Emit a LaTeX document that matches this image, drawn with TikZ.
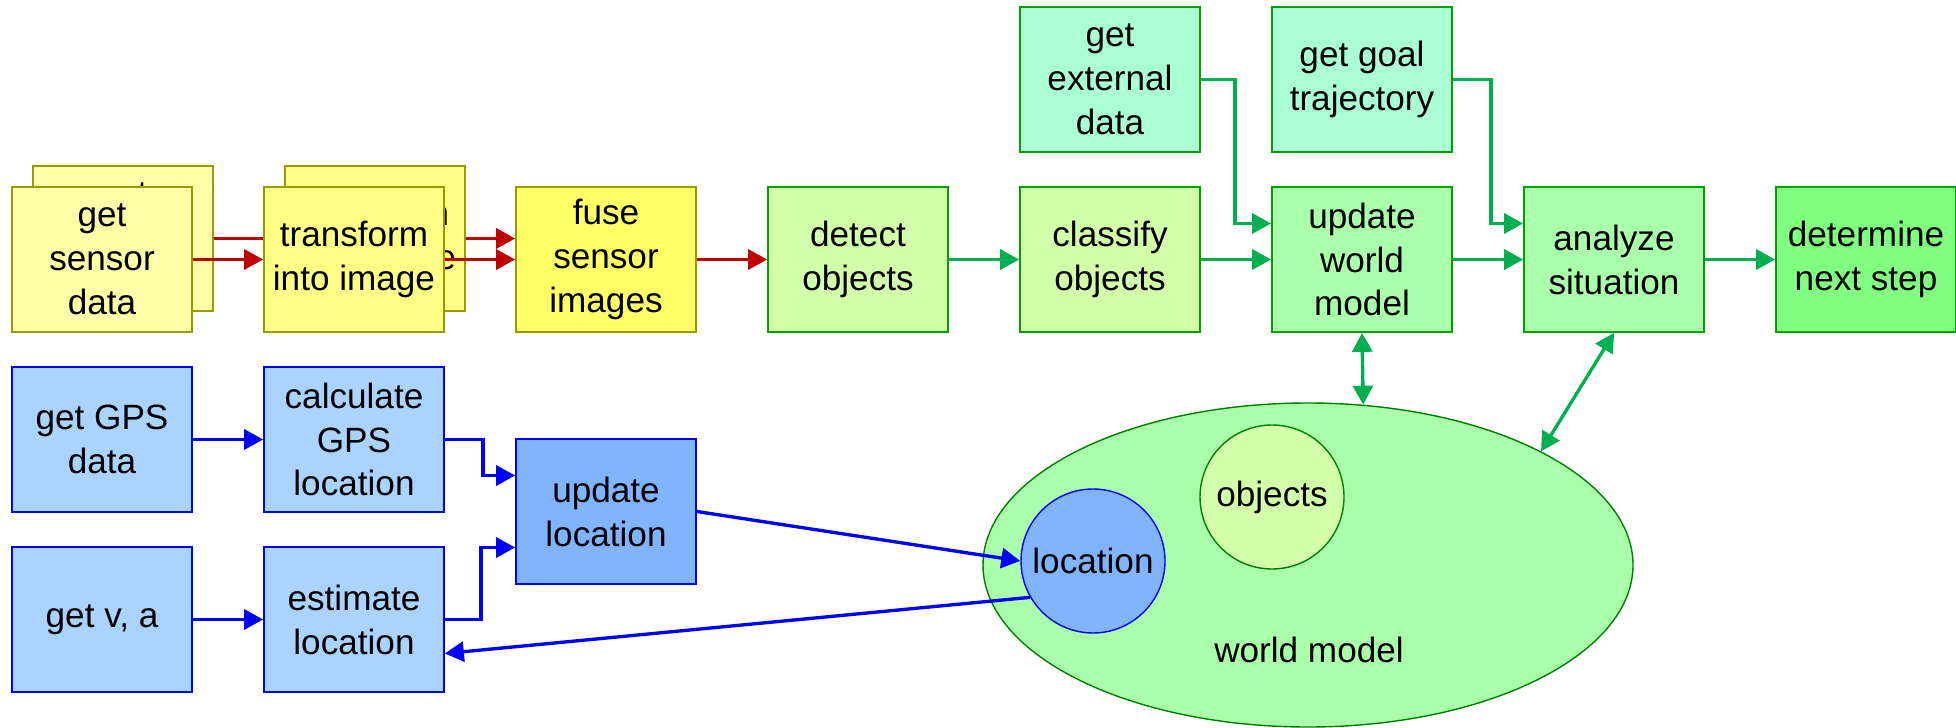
\documentclass[tikz,border=0pt]{standalone}
\usepackage{fontspec}
\setmainfont{Liberation Sans}
\usepackage{tikz}
\usetikzlibrary{positioning, arrows.meta, backgrounds, shapes.geometric}

\definecolor{sensorfill}{HTML}{FFFFAA}
\definecolor{imagefill}{HTML}{FFFF88}
\definecolor{fusefill}{HTML}{FFFF66}
\definecolor{olivedraw}{HTML}{999900}
\definecolor{objectfill}{HTML}{D4FFAA}
\definecolor{extfill}{HTML}{AAFFD4}
\definecolor{modelfill}{HTML}{AAFFAA}
\definecolor{stepfill}{HTML}{80FF80}
\definecolor{greendraw}{HTML}{00A000}
\definecolor{modeldraw}{HTML}{008000}
\definecolor{gpsfill}{HTML}{AAD4FF}
\definecolor{locfill}{HTML}{80B4FF}
\definecolor{bluedraw}{HTML}{0000FF}
\definecolor{redarrow}{HTML}{C00000}
\definecolor{greenarrow}{HTML}{00B050}
\definecolor{bluearrow}{HTML}{0000FF}

\begin{document}
\begin{tikzpicture}[node distance=5.04cm,
  every node/.style={font=\fontsize{20}{25}\selectfont},
  main node/.style={rectangle,draw,line width=1pt,minimum width=3.6cm,minimum height=2.9cm,inner sep=0pt,align=center},
  yellow node/.style={main node,draw=olivedraw},
  green node/.style={main node,draw=greendraw},
  blue node/.style={main node,draw=bluedraw,fill=gpsfill},
  round node/.style={circle,line width=0.8pt,minimum size=2.88cm,inner sep=0pt},
  flow/.style={line width=1.9pt,-{Triangle[length=0.38cm,width=0.4cm]}},
  both ways/.style={{Triangle[length=0.38cm,width=0.4cm]}-{Triangle[length=0.38cm,width=0.4cm]}},
  red edge/.style={flow,color=redarrow},
  green edge/.style={flow,color=greenarrow},
  blue edge/.style={flow,color=bluearrow}]

\useasboundingbox (0,0) rectangle (39.12,14.54);

% top row
\node[yellow node, fill=sensorfill] (sensor) at (2.04,9.35) {get\\sensor\\data};
\node[yellow node, fill=imagefill] (image) [right of=sensor] {transform\\into image};
\node[yellow node, fill=fusefill] (fuse) [right of=image] {fuse\\sensor\\images};
\node[green node, fill=objectfill] (detect) [right of=fuse] {detect\\objects};
\node[green node, fill=objectfill] (classify) [right of=detect] {classify\\objects};
\node[green node, fill=modelfill] (update) [right of=classify] {update\\world\\model};
\node[green node, fill=modelfill] (analyze) [right of=update] {analyze\\situation};
\node[green node, fill=stepfill] (next) [right of=analyze] {determine\\next step};

\node[green node, fill=extfill] (external) [node distance=3.6cm, above of=classify] {get\\external\\data};
\node[green node, fill=extfill] (goal) [node distance=3.6cm, above of=update] {get goal\\trajectory};

\begin{scope}[on background layer]
\node[yellow node, fill=sensorfill] (sensorB) at ([shift={(0.42,0.42)}]sensor) {get\\sensor\\data};
\node[yellow node, fill=imagefill] (imageB) at ([shift={(0.42,0.42)}]image) {transform\\into image};
\end{scope}

% location
\node[blue node] (gps) [node distance=3.6cm, below of=sensor] {get GPS\\data};
\node[blue node] (calc) [right of=gps] {calculate\\GPS\\location};
\node[blue node] (vel) [node distance=3.6cm, below of=gps] {get v, a};
\node[blue node] (estimate) [right of=vel] {estimate\\location};
\node[blue node, fill=locfill] (locupdate) [right of=calc, yshift=-1.44cm] {update\\location};

% world model
\node[ellipse, draw=modeldraw, fill=modelfill, line width=0.8pt, minimum width=13cm, minimum height=6.48cm, inner sep=0pt] (model) at (26.16,3.24) {};
\node (modeltext) at (26.18,1.54) {world model};
\node[round node, draw=modeldraw, fill=objectfill] (objects) at (25.44,4.6) {objects};
\node[round node, draw=bluedraw, fill=locfill] (where) at (21.86,3.32) {location};

\path[red edge]
(sensor) edge (image)
(image) edge (fuse)
(fuse) edge (detect);
\draw[red edge, -] (sensorB.east) -- (sensorB.east -| image.west);
\draw[red edge] (imageB.east) -- (imageB.east -| fuse.west);

\path[green edge]
(detect) edge (classify)
(classify) edge (update)
(update) edge (analyze)
(analyze) edge (next);
\draw[green edge] (external.east) -- ++(0.68,0) |- ([yshift=0.72cm]update.west);
\draw[green edge] (goal.east) -- ++(0.76,0) |- ([yshift=0.72cm]analyze.west);
\draw[green edge, both ways] (update.south) -- (model.71);
\draw[green edge, both ways] (analyze.south) -- (model.26);

\path[blue edge]
(gps) edge (calc)
(vel) edge (estimate)
(locupdate.east) edge (where.west);
\draw[blue edge] (calc.east) -- ++(0.76,0) |- ([yshift=0.72cm]locupdate.west);
\draw[blue edge] (estimate.east) -- ++(0.72,0) |- ([yshift=-0.72cm]locupdate.west);
\draw[blue edge] (where.210) -- ([yshift=-0.68cm]estimate.east);

\end{tikzpicture}
\end{document}
